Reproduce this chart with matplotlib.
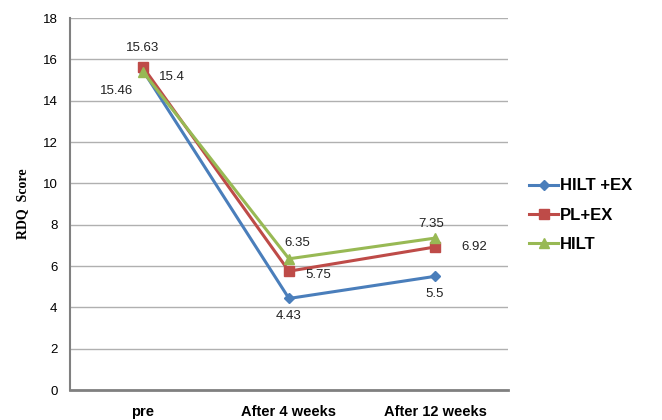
import matplotlib
matplotlib.use('Agg')
import matplotlib.pyplot as plt

plt.rcParams['font.family'] = ['Liberation Sans', 'DejaVu Sans']

categories = ['pre', 'After 4 weeks', 'After 12 weeks']
series_names = ['HILT +EX', 'PL+EX', 'HILT']
hilt_ex = [15.46, 4.43, 5.5]
pl_ex = [15.63, 5.75, 6.92]
hilt = [15.4, 6.35, 7.35]
colors = ['#4A7EBB', '#BE4B48', '#98B954']
markers = ['D', 's', '^']
msizes = [5, 7, 7]

# label offsets in pixels, per series per point
offsets = [
    [(-26, -20), (0, -18), (0, -18)],
    [(0, 19), (29, -4), (39, 0)],
    [(29, -5), (8, 16), (-4, 14)],
]

fig = plt.figure(figsize=(6.62, 4.2), dpi=100)
ax = fig.add_axes([0.1057, 0.0714, 0.6616, 0.8857])

x = list(range(len(categories)))
for vals, name, c, m, ms, offs in zip([hilt_ex, pl_ex, hilt], series_names,
                                       colors, markers, msizes, offsets):
    ax.plot(x, vals, color=c, marker=m, markersize=ms, linewidth=2.2, label=name)
    for xi, v, off in zip(x, vals, offs):
        ax.annotate(f'{v:g}', (xi, v), xytext=off, textcoords='offset pixels',
                    ha='center', va='center', fontsize=9.5, color='#222222')

ax.set_xlim(-0.5, 2.5)
ax.set_ylim(0, 18)
ax.set_yticks(range(0, 19, 2))
ax.set_xticks(x)
ax.set_xticklabels(categories, fontsize=10.5, fontweight='bold')
ax.tick_params(axis='both', length=0)
ax.tick_params(axis='x', pad=11, labelsize=10.5)
ax.tick_params(axis='y', pad=9, labelsize=9.5)
ax.grid(axis='y', color='#B0B0B0', linewidth=1)
ax.set_axisbelow(True)
for s in ['top', 'right']:
    ax.spines[s].set_visible(False)
ax.spines['left'].set_color('#808080')
ax.spines['left'].set_linewidth(1.5)
ax.spines['bottom'].set_color('#808080')
ax.spines['bottom'].set_linewidth(2)

ax.set_ylabel('RDQ  Score', family=['Liberation Serif', 'DejaVu Serif'],
              fontweight='bold', fontsize=10, labelpad=10)

fig.legend(loc='center left', bbox_to_anchor=(0.799, 0.488), frameon=False,
           prop={'weight': 'bold', 'size': 12}, handlelength=1.75,
           handletextpad=0.12, labelspacing=0.85, borderpad=0,
           borderaxespad=0)

fig.savefig('out.png', dpi=100)
